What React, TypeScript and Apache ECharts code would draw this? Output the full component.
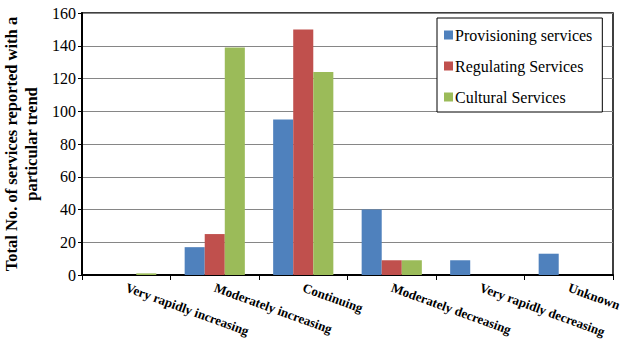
import React, { useEffect, useRef } from "react";
import * as echarts from "echarts";

const categories = [
  "Very rapidly increasing",
  "Moderately increasing",
  "Continuing",
  "Moderately decreasing",
  "Very rapidly decreasing",
  "Unknown",
];
const provisioning = [0, 17, 95, 40, 9, 13];
const regulating = [0, 25, 150, 9, 0, 0];
const cultural = [1, 139, 124, 9, 0, 0];
const yTicks = { min: 0, max: 160, interval: 20 };

const FONT = "Liberation Serif";

export default function App() {
  const ref = useRef<HTMLDivElement>(null);
  useEffect(() => {
    if (!ref.current) return;
    const chart = echarts.init(ref.current, null, { renderer: "svg" });
    chart.setOption({
      animation: false,
      textStyle: { fontFamily: FONT },
      grid: {
        left: 82,
        right: 13,
        top: 13,
        bottom: 68,
        containLabel: false,
        outerBoundsMode: "none",
        show: true,
        borderColor: "#000",
        borderWidth: 1.5,
        backgroundColor: "transparent",
      },
      legend: {
        orient: "vertical",
        left: 437,
        top: 18,
        width: 170,
        padding: [9, 10, 7, 7],
        itemGap: 15,
        itemWidth: 9,
        itemHeight: 9,
        icon: "rect",
        borderColor: "#000",
        borderWidth: 1,
        backgroundColor: "#fff",
        textStyle: { fontFamily: FONT, fontSize: 16, color: "#000", padding: [0, 0, 0, -3] },
        data: ["Provisioning services", "Regulating Services", "Cultural Services"],
      },
      xAxis: {
        type: "category",
        data: categories,
        axisLine: { lineStyle: { color: "#000", width: 2 } },
        axisTick: { show: true, length: 5, lineStyle: { color: "#000", width: 1 } },
        axisLabel: {
          interval: 0,
          rotate: -20,
          margin: 12,
          fontFamily: FONT,
          fontSize: 13,
          fontWeight: "bold",
          color: "#000",
        },
      },
      yAxis: {
        type: "value",
        min: yTicks.min,
        max: yTicks.max,
        interval: yTicks.interval,
        name: "Total No. of services reported with a\nparticular trend",
        nameLocation: "middle",
        nameGap: 40,
        nameRotate: 90,
        nameTextStyle: {
          fontFamily: FONT,
          fontSize: 16.5,
          fontWeight: "bold",
          color: "#000",
          lineHeight: 20,
        },
        axisLine: { show: true, lineStyle: { color: "#000", width: 2 } },
        axisTick: { show: true, length: 4, lineStyle: { color: "#000" } },
        axisLabel: { fontFamily: FONT, fontSize: 16, color: "#000", margin: 6 },
        splitLine: { lineStyle: { color: "#868686", width: 1 } },
      },
      series: [
        {
          name: "Provisioning services",
          type: "bar",
          data: provisioning,
          itemStyle: { color: "#4F81BD" },
          barGap: "0%",
          barCategoryGap: "32%",
        },
        {
          name: "Regulating Services",
          type: "bar",
          data: regulating,
          itemStyle: { color: "#C0504D" },
          barGap: "0%",
          barCategoryGap: "32%",
        },
        {
          name: "Cultural Services",
          type: "bar",
          data: cultural,
          itemStyle: { color: "#9BBB59" },
          barGap: "0%",
          barCategoryGap: "32%",
        },
      ],
    });
    return () => chart.dispose();
  }, []);
  return <div ref={ref} style={{ width: 626, height: 343, position: "absolute", left: 0, top: 0 }} />;
}
